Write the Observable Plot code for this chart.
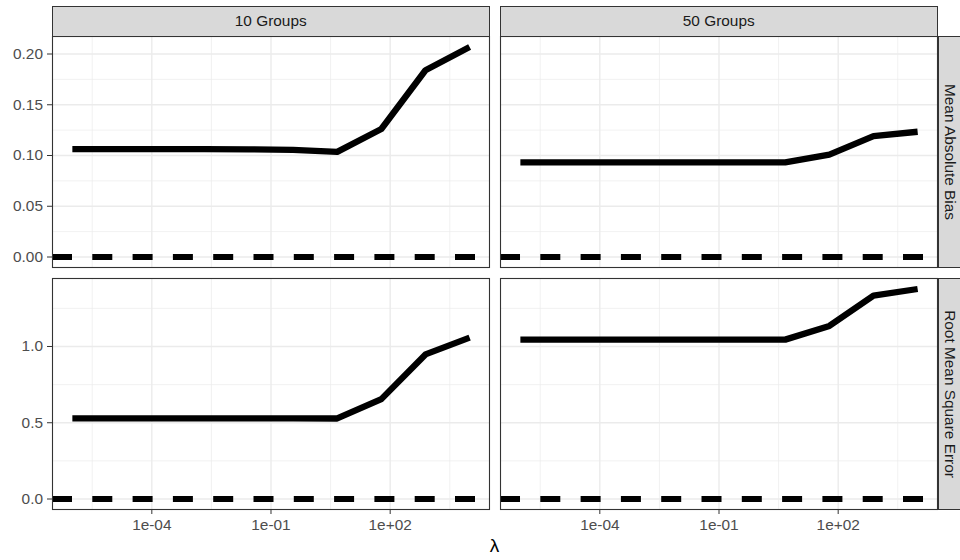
<!DOCTYPE html>
<html>
<head>
<meta charset="utf-8">
<script src="https://cdn.jsdelivr.net/npm/d3@7"></script>
<script src="https://cdn.jsdelivr.net/npm/@observablehq/plot@0.6"></script>
<style>
  body { margin: 0; background: #fff; }
  #chart {
    position: relative; width: 960px; height: 560px; overflow: hidden;
    background: #fff; font-family: "Liberation Sans", Arial, sans-serif;
  }
  .row { position: absolute; left: 0; }
  .strip {
    position: absolute; box-sizing: border-box; background: #d9d9d9;
    border: 1.1px solid #333; color: #1a1a1a; font-size: 15.4px;
    display: flex; align-items: center; justify-content: center;
  }
  .strip.side span { transform: rotate(90deg); white-space: nowrap; }
  .xtitle {
    position: absolute; width: 100px; text-align: center;
    font-size: 19px; line-height: 19px; color: #000;
  }
</style>
</head>
<body>
<div id="chart"></div>
<script>
// Penalty values (lambda) on a log grid
const lambda = [1e-6, 1.29e-5, 1.67e-4, 2.15e-3, 2.78e-2, 0.359, 4.64, 59.9, 774, 1e4];

const groups = ["10 Groups", "50 Groups"];
const metrics = ["Mean Absolute Bias", "Root Mean Square Error"];

// Mean absolute bias by number of groups
const bias10 = [0.1062, 0.1062, 0.1062, 0.1062, 0.1061, 0.1056, 0.1036, 0.1261, 0.1840, 0.2069];
const bias50 = [0.0933, 0.0933, 0.0933, 0.0933, 0.0933, 0.0933, 0.0933, 0.1008, 0.1190, 0.1234];

// Root mean square error by number of groups
const rmse10 = [0.529, 0.529, 0.529, 0.529, 0.529, 0.529, 0.528, 0.655, 0.948, 1.058];
const rmse50 = [1.045, 1.045, 1.045, 1.045, 1.045, 1.045, 1.045, 1.135, 1.334, 1.377];

// Axis breaks and labels
const xTicks = [1e-4, 1e-1, 1e2];
const xTickLabels = ["1e-04", "1e-01", "1e+02"];
const xMinor = [3.162e-6, 3.162e-3, 3.162, 3162];
const biasTicks = [0, 0.05, 0.10, 0.15, 0.20];
const biasTickLabels = ["0.00", "0.05", "0.10", "0.15", "0.20"];
const biasMinor = [0.025, 0.075, 0.125, 0.175];
const rmseTicks = [0, 0.5, 1.0];
const rmseTickLabels = ["0.0", "0.5", "1.0"];
const rmseMinor = [0.25, 0.75, 1.25];

const font = '"Liberation Sans", Arial, sans-serif';
const chart = document.getElementById("chart");

function tidy(a, b) {
  return lambda.flatMap((l, i) => [
    {group: groups[0], lambda: l, value: a[i]},
    {group: groups[1], lambda: l, value: b[i]}
  ]);
}

function rowPlot({rows, yTicks, yLabels, yMinor, showX, height, marginBottom}) {
  const ymax = d3.max(rows, d => d.value);
  const pad = ymax * 0.05; // 5% expansion, range includes zero
  const yFmt = new Map(yTicks.map((t, i) => [t, yLabels[i]]));
  const xFmt = new Map(xTicks.map((t, i) => [t, xTickLabels[i]]));
  const grid = {stroke: "#ebebeb", strokeOpacity: 1};
  const marks = [
    Plot.gridX(xMinor, {...grid, strokeWidth: 0.7}),
    Plot.gridY(yMinor, {...grid, strokeWidth: 0.7}),
    Plot.gridX(xTicks, {...grid, strokeWidth: 1.4}),
    Plot.gridY(yTicks, {...grid, strokeWidth: 1.4}),
    Plot.ruleY([0], {stroke: "#000", strokeWidth: 6, strokeDasharray: "20,20.3"}),
    Plot.line(rows, {
      x: "lambda", y: "value", fx: "group",
      stroke: "#000", strokeWidth: 6.3, strokeLinejoin: "round", strokeLinecap: "butt"
    }),
    Plot.frame({stroke: "#333", strokeWidth: 1.1}),
    Plot.axisY(yTicks, {
      tickFormat: d => yFmt.get(d), tickSize: 5, tickPadding: 4.5,
      stroke: "#333", fill: "#4d4d4d", fontSize: 15.4, label: null
    })
  ];
  if (showX) {
    marks.push(Plot.axisX(xTicks, {
      tickFormat: d => xFmt.get(d), tickSize: 5, tickPadding: 5,
      stroke: "#333", fill: "#4d4d4d", fontSize: 15.4, label: null
    }));
  }
  return Plot.plot({
    width: 960,
    height,
    marginLeft: 52,
    marginRight: 23,
    marginTop: 6,
    marginBottom,
    style: {fontFamily: font, fontSize: "15.4px", background: "transparent", overflow: "visible"},
    fx: {domain: groups, paddingInner: 0.0246, paddingOuter: 0, round: false, axis: null, label: null},
    x: {type: "log", domain: [10 ** -6.5, 10 ** 4.5], axis: showX ? undefined : null},
    y: {domain: [-pad, ymax + pad]},
    marks
  });
}

const topRow = rowPlot({
  rows: tidy(bias10, bias50), yTicks: biasTicks, yLabels: biasTickLabels, yMinor: biasMinor,
  showX: false, height: 242, marginBottom: 5
});
topRow.classList.add("row");
topRow.style.top = "30px";
chart.appendChild(topRow);

const bottomRow = rowPlot({
  rows: tidy(rmse10, rmse50), yTicks: rmseTicks, yLabels: rmseTickLabels, yMinor: rmseMinor,
  showX: true, height: 288, marginBottom: 51
});
bottomRow.classList.add("row");
bottomRow.style.top = "272px";
chart.appendChild(bottomRow);

// Facet strips
function strip(text, left, topPx, width, height, side) {
  const d = document.createElement("div");
  d.className = "strip" + (side ? " side" : "");
  Object.assign(d.style, {left: left + "px", top: topPx + "px", width: width + "px", height: height + "px"});
  const s = document.createElement("span");
  s.textContent = text;
  d.appendChild(s);
  chart.appendChild(d);
}
strip(groups[0], 52, 6, 437.5, 30.6, false);
strip(groups[1], 500, 6, 437.5, 30.6, false);
strip(metrics[0], 937.5, 36, 25, 231.5, true);
strip(metrics[1], 937.5, 278, 25, 231.5, true);

// Shared x-axis title
const xt = document.createElement("div");
xt.className = "xtitle";
xt.textContent = "λ";
Object.assign(xt.style, {left: (494.5 - 50) + "px", top: "536px"});
chart.appendChild(xt);
</script>
</body>
</html>
